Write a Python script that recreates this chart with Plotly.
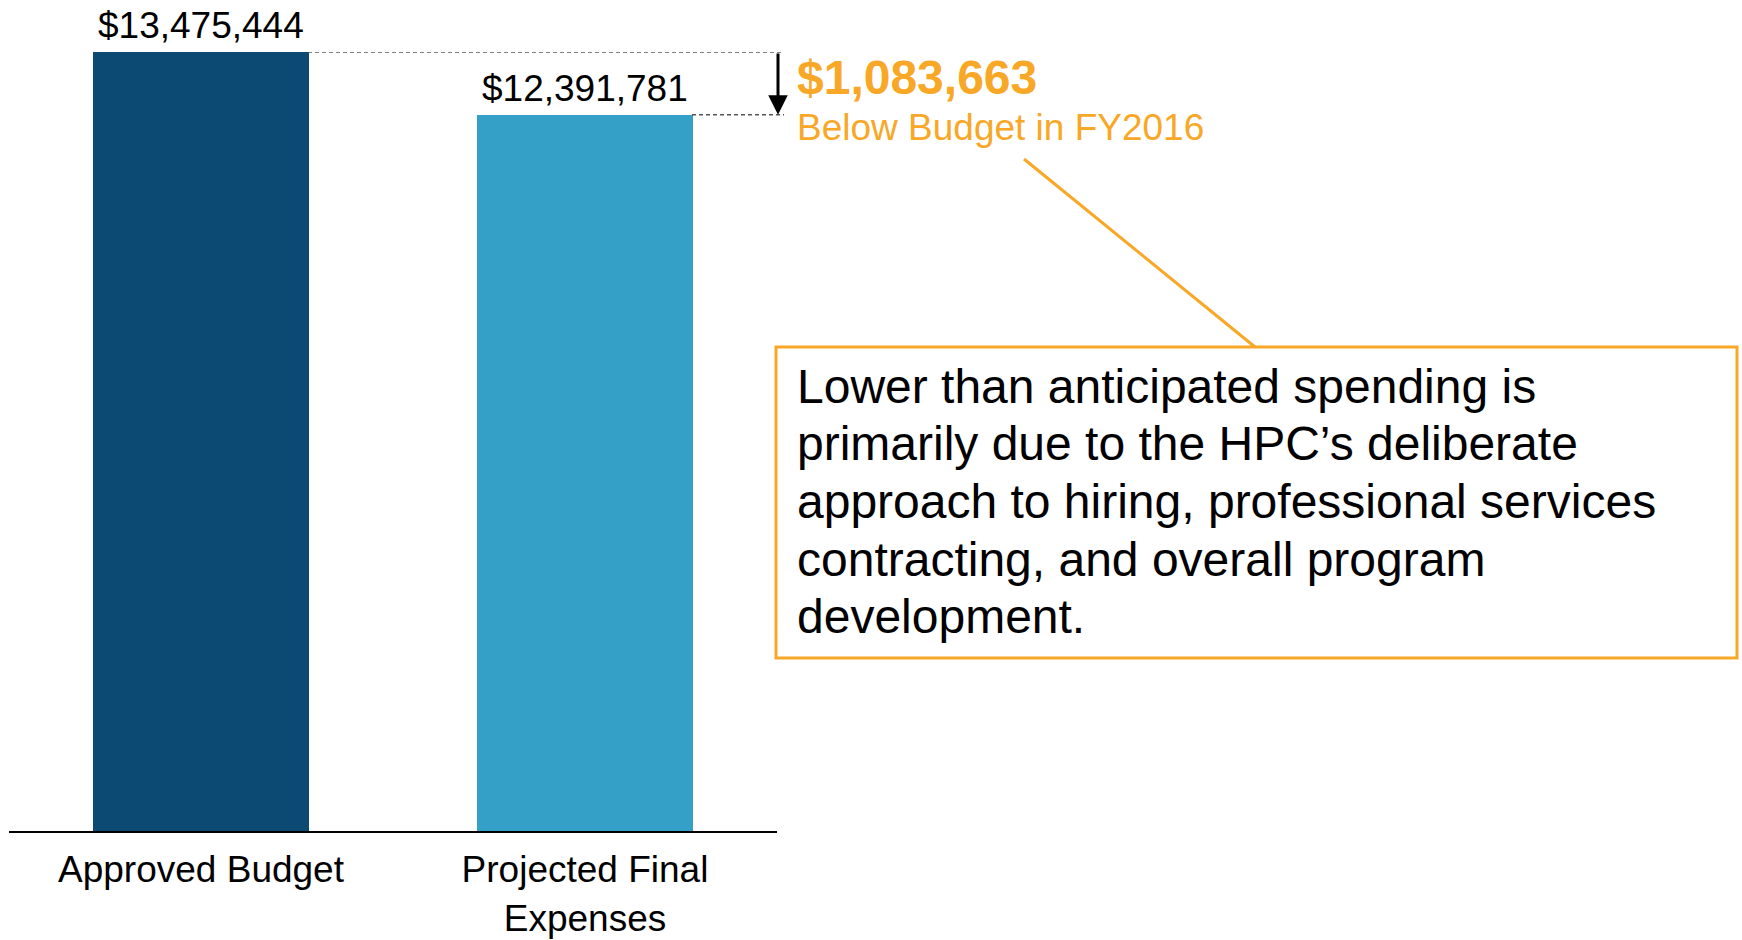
import plotly.graph_objects as go

# Data
categories = ["Approved Budget", "Projected Final<br>Expenses"]
amounts = [13475444, 12391781]
bar_colors = ["#0C4A73", "#34A0C8"]
note_lines = [
    "Lower than anticipated spending is",
    "primarily due to the HPC\u2019s deliberate",
    "approach to hiring, professional services",
    "contracting, and overall program",
    "development.",
]
fiscal_year = "FY2016"

W, H = 1742, 940
ORANGE = "#F8A727"
FONT = "Arial, Liberation Sans, sans-serif"


# pixel position -> paper fraction
def fx(px):
    return px / W


def fy(py):
    return 1 - py / H


approved, projected = amounts
gap = approved - projected

fig = go.Figure(go.Bar(
    x=categories,
    y=amounts,
    width=0.56,
    marker=dict(color=bar_colors, line_width=0),
    cliponaxis=False,
    hoverinfo="skip",
))

annotations = []
# value labels above bars
for cat, val in zip(categories, amounts):
    annotations.append(dict(
        x=cat, y=val, xref="x", yref="y",
        text="${:,}".format(val), showarrow=False,
        yanchor="bottom", yshift=4,
        font=dict(size=37, color="black", family=FONT),
    ))

# arrow between the two levels
annotations.append(dict(
    x=fx(778), y=projected, xref="paper", yref="y",
    ax=0, ay=approved, axref="pixel", ayref="y",
    text="", showarrow=True, arrowhead=2, arrowsize=1.3,
    arrowwidth=3, arrowcolor="black", standoff=0,
))

annotations.append(dict(
    x=fx(795), y=fy(77), xref="paper", yref="paper",
    text="<b>${:,}</b>".format(gap), showarrow=False,
    xanchor="left", yanchor="middle",
    font=dict(size=48, color=ORANGE, family=FONT),
))
annotations.append(dict(
    x=fx(795), y=fy(128), xref="paper", yref="paper",
    text="Below Budget in " + fiscal_year, showarrow=False,
    xanchor="left", yanchor="middle",
    font=dict(size=37, color=ORANGE, family=FONT),
))

# callout text, one line each
for i, line in enumerate(note_lines):
    annotations.append(dict(
        x=fx(795), y=fy(386 + 57.7 * i), xref="paper", yref="paper",
        text=line, showarrow=False,
        xanchor="left", yanchor="middle",
        font=dict(size=48, color="black", family=FONT),
    ))

shapes = [
    # dashed guide lines at bar tops
    dict(type="line", xref="paper", yref="y",
         x0=fx(308), x1=fx(784), y0=approved, y1=approved,
         line=dict(color="#555555", width=1.5, dash="4px,3px")),
    dict(type="line", xref="paper", yref="y",
         x0=fx(692), x1=fx(784), y0=projected, y1=projected,
         line=dict(color="#555555", width=1.5, dash="4px,3px")),
    # connector to callout box
    dict(type="line", xref="paper", yref="paper",
         x0=fx(1024), y0=fy(159), x1=fx(1255), y1=fy(347),
         line=dict(color=ORANGE, width=3)),
    # callout box
    dict(type="rect", xref="paper", yref="paper",
         x0=fx(776), x1=fx(1737), y0=fy(658), y1=fy(347),
         line=dict(color=ORANGE, width=3), fillcolor="rgba(0,0,0,0)"),
]

fig.update_layout(
    width=W, height=H, autosize=False,
    margin=dict(l=0, r=0, t=0, b=0),
    plot_bgcolor="white", paper_bgcolor="white",
    showlegend=False,
    bargap=0,
    xaxis=dict(
        domain=[fx(9), fx(777)], range=[-0.5, 1.5],
        showline=True, linecolor="black", linewidth=2,
        ticks="", showgrid=False, zeroline=False,
        tickfont=dict(size=37, color="black", family=FONT),
        ticklabelstandoff=5, automargin=False,
    ),
    yaxis=dict(
        domain=[fy(831), fy(52)], range=[0, approved],
        visible=False, showgrid=False, zeroline=False, automargin=False,
    ),
    annotations=annotations,
    shapes=shapes,
)

# page body has a default 8px margin; drop it so the figure fills the window
fig.write_html("out.html", post_script="document.body.style.margin='0px';",
               config={"displayModeBar": False, "staticPlot": True})
